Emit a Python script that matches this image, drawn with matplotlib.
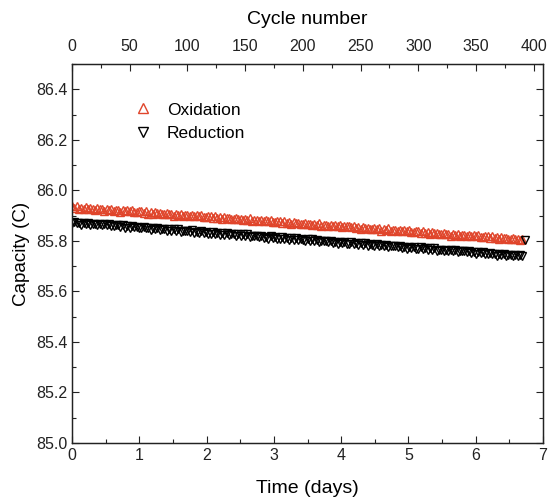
import numpy as np
import matplotlib
matplotlib.use("Agg")
import matplotlib.pyplot as plt
from matplotlib.ticker import MultipleLocator

plt.rcParams['font.family'] = ['Liberation Sans', 'DejaVu Sans']

# cycle index of each plotted point (every 2nd cycle)
cycles = list(range(0, 391, 2))

oxidation = [
    85.937, 85.931, 85.938, 85.928, 85.932, 85.926, 85.934, 85.928, 85.931, 85.925,
    85.924, 85.931, 85.925, 85.927, 85.920, 85.927, 85.922, 85.928, 85.918, 85.923,
    85.922, 85.916, 85.923, 85.917, 85.922, 85.917, 85.922, 85.913, 85.916, 85.917,
    85.917, 85.912, 85.918, 85.908, 85.913, 85.906, 85.914, 85.909, 85.911, 85.905,
    85.905, 85.911, 85.905, 85.908, 85.900, 85.908, 85.902, 85.908, 85.899, 85.903,
    85.902, 85.897, 85.903, 85.897, 85.903, 85.897, 85.902, 85.894, 85.896, 85.897,
    85.898, 85.892, 85.898, 85.889, 85.893, 85.886, 85.895, 85.889, 85.891, 85.886,
    85.885, 85.891, 85.886, 85.888, 85.881, 85.888, 85.882, 85.889, 85.879, 85.883,
    85.883, 85.877, 85.883, 85.878, 85.883, 85.877, 85.883, 85.874, 85.876, 85.878,
    85.878, 85.872, 85.879, 85.869, 85.873, 85.867, 85.875, 85.869, 85.872, 85.866,
    85.865, 85.872, 85.866, 85.868, 85.861, 85.868, 85.863, 85.869, 85.859, 85.864,
    85.863, 85.857, 85.864, 85.858, 85.863, 85.858, 85.863, 85.854, 85.857, 85.858,
    85.858, 85.853, 85.859, 85.849, 85.854, 85.847, 85.855, 85.850, 85.852, 85.846,
    85.846, 85.852, 85.846, 85.849, 85.841, 85.848, 85.843, 85.849, 85.839, 85.844,
    85.843, 85.838, 85.844, 85.838, 85.844, 85.838, 85.843, 85.835, 85.837, 85.838,
    85.839, 85.833, 85.839, 85.830, 85.834, 85.827, 85.836, 85.830, 85.832, 85.827,
    85.826, 85.832, 85.827, 85.829, 85.821, 85.829, 85.823, 85.829, 85.820, 85.824,
    85.824, 85.818, 85.824, 85.819, 85.824, 85.818, 85.824, 85.815, 85.817, 85.819,
    85.819, 85.813, 85.820, 85.810, 85.814, 85.808, 85.816, 85.810, 85.813, 85.807,
    85.806, 85.813, 85.807, 85.809, 85.802, 85.809,
]

reduction_cycles = cycles + [392]
reduction = [
    85.869, 85.875, 85.870, 85.872, 85.864, 85.872, 85.866, 85.872, 85.863, 85.867,
    85.866, 85.861, 85.867, 85.861, 85.867, 85.861, 85.866, 85.857, 85.860, 85.861,
    85.862, 85.856, 85.862, 85.852, 85.857, 85.850, 85.858, 85.853, 85.855, 85.849,
    85.849, 85.855, 85.849, 85.852, 85.844, 85.851, 85.846, 85.852, 85.842, 85.847,
    85.846, 85.840, 85.847, 85.841, 85.846, 85.841, 85.846, 85.837, 85.840, 85.841,
    85.841, 85.836, 85.842, 85.832, 85.837, 85.830, 85.838, 85.832, 85.835, 85.829,
    85.828, 85.835, 85.829, 85.831, 85.824, 85.831, 85.825, 85.832, 85.822, 85.826,
    85.826, 85.820, 85.826, 85.821, 85.826, 85.820, 85.826, 85.817, 85.819, 85.821,
    85.821, 85.815, 85.821, 85.812, 85.816, 85.809, 85.818, 85.812, 85.814, 85.809,
    85.808, 85.814, 85.809, 85.811, 85.803, 85.811, 85.805, 85.811, 85.802, 85.806,
    85.805, 85.800, 85.806, 85.800, 85.806, 85.800, 85.805, 85.797, 85.799, 85.800,
    85.801, 85.795, 85.801, 85.792, 85.796, 85.789, 85.797, 85.792, 85.794, 85.788,
    85.788, 85.794, 85.788, 85.791, 85.783, 85.790, 85.785, 85.791, 85.781, 85.786,
    85.785, 85.779, 85.786, 85.780, 85.785, 85.780, 85.785, 85.776, 85.779, 85.780,
    85.780, 85.775, 85.781, 85.771, 85.776, 85.769, 85.777, 85.771, 85.774, 85.768,
    85.768, 85.774, 85.768, 85.770, 85.763, 85.770, 85.764, 85.771, 85.761, 85.765,
    85.765, 85.759, 85.765, 85.760, 85.765, 85.759, 85.765, 85.756, 85.758, 85.760,
    85.760, 85.754, 85.761, 85.751, 85.755, 85.749, 85.757, 85.751, 85.754, 85.748,
    85.747, 85.753, 85.748, 85.750, 85.742, 85.750, 85.744, 85.750, 85.741, 85.745,
    85.744, 85.739, 85.745, 85.739, 85.745, 85.739,
    85.805,
]

CYCLES_PER_DAY = 408.0 / 7.0
ox_days = np.array(cycles) / CYCLES_PER_DAY
red_days = np.array(reduction_cycles) / CYCLES_PER_DAY

fig = plt.figure(figsize=(5.48, 4.97), dpi=100)
ax = fig.add_axes([72/548, 54/497, 471/548, 379/497])

red_col = '#E0452B'
ax.plot(ox_days, oxidation, linestyle='none', marker='^', markersize=6,
        markerfacecolor='none', markeredgecolor=red_col, markeredgewidth=1.0,
        label='Oxidation')
ax.plot(red_days, reduction, linestyle='none', marker='v', markersize=6,
        markerfacecolor='none', markeredgecolor='black', markeredgewidth=1.0,
        label='Reduction')

ax.set_xlim(0, 7)
ax.set_ylim(85.0, 86.5)
ax.xaxis.set_major_locator(MultipleLocator(1))
ax.xaxis.set_minor_locator(MultipleLocator(0.5))
ax.yaxis.set_minor_locator(MultipleLocator(0.1))
ax.set_yticks([85.0, 85.2, 85.4, 85.6, 85.8, 86.0, 86.2, 86.4])
ax.tick_params(which='both', direction='in', right=True, top=False,
               labelsize=11.5, colors='#222222')
ax.tick_params(which='major', length=5, width=0.8)
ax.tick_params(which='minor', length=3, width=0.8)
ax.set_xlabel('Time (days)', fontsize=14, labelpad=12)
ax.set_ylabel('Capacity (C)', fontsize=13.5, labelpad=4)

ax2 = ax.twiny()
ax2.set_xlim(0, 7 * CYCLES_PER_DAY)
ax2.xaxis.set_major_locator(MultipleLocator(50))
ax2.xaxis.set_minor_locator(MultipleLocator(25))
ax2.tick_params(which='both', direction='in', labelsize=11.5, colors='#222222')
ax2.tick_params(which='major', length=5, width=0.8, pad=7)
ax2.tick_params(which='minor', length=3, width=0.8)
ax2.set_xlabel('Cycle number', fontsize=14, labelpad=11)

for a in (ax, ax2):
    for s in a.spines.values():
        s.set_linewidth(0.9)
        s.set_color('#222222')

leg = ax.legend(loc='upper left', bbox_to_anchor=(0.095, 0.94), frameon=False,
                fontsize=12.5, handletextpad=0.8, labelspacing=0.5,
                handlelength=1.2, markerscale=1.1)

fig.savefig('out.png', dpi=100)
